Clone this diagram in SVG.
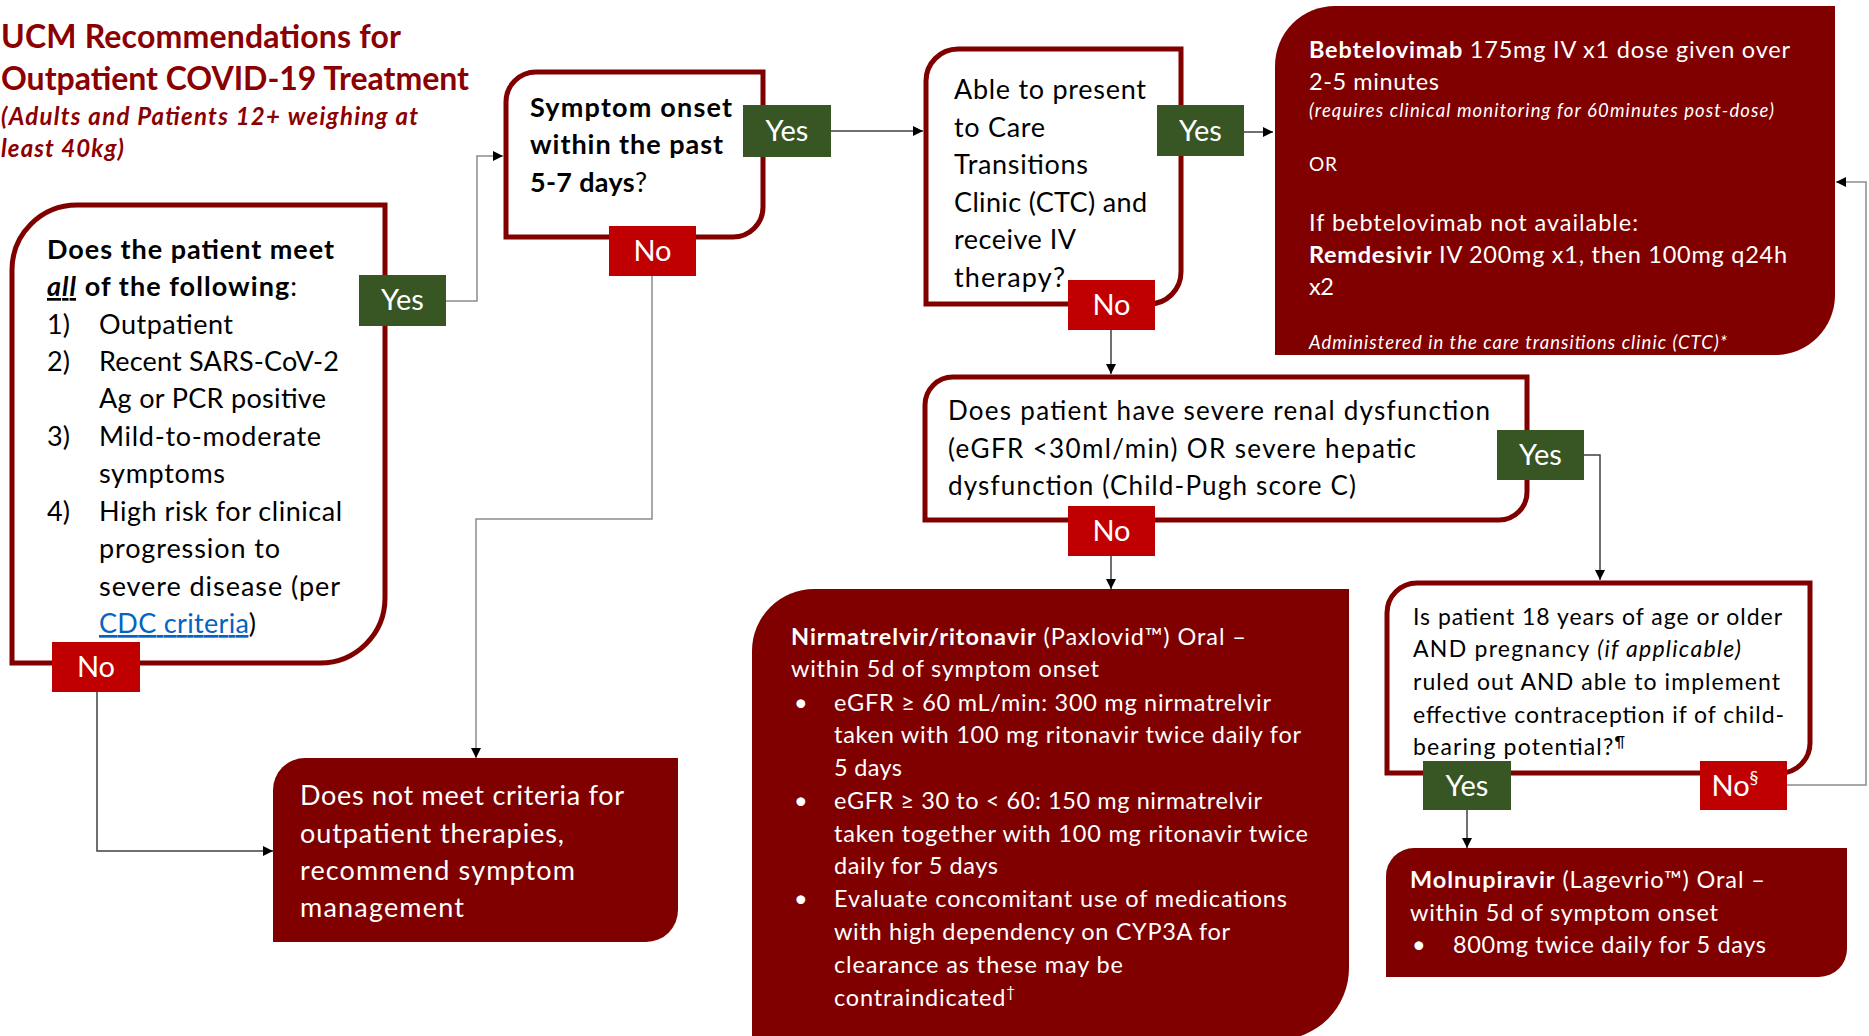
<svg xmlns="http://www.w3.org/2000/svg" width="1869" height="1036" viewBox="0 0 1869 1036">
<style>
text{font-family:Lato,"Open Sans","Liberation Sans",sans-serif;}
.b{font-weight:bold;}
.i{font-style:italic;}
.n{font-weight:normal;}
.w{fill:#ffffff;}
.k{fill:#000000;}
.title{fill:#8B0000;font-weight:bold;}
.q{fill:#ffffff;stroke:#800000;stroke-width:5;}
.f{fill:#800000;}
.yes{fill:#375623;}
.no{fill:#C00000;}
.lbl{fill:#ffffff;font-size:29px;text-anchor:middle;}
.c{fill:none;stroke:#404040;stroke-width:1.5;}
.cg{fill:none;stroke:#8c8c8c;stroke-width:1.5;}
</style>
<defs>
<marker id="ah" viewBox="0 0 10 10" refX="10" refY="5" markerWidth="10" markerHeight="10" markerUnits="userSpaceOnUse" orient="auto">
<path d="M0,0 L10,5 L0,10 z" fill="#000"/>
</marker>
</defs>

<g id="title">
<text class="title" x="1" y="48" font-size="32" textLength="400">UCM Recommendations for</text>
<text class="title" x="1" y="90" font-size="32" textLength="468">Outpatient COVID-19 Treatment</text>
<text class="title i" x="1" y="125" font-size="24" textLength="417">(Adults and Patients 12+ weighing at</text>
<text class="title i" x="1" y="157" font-size="24" textLength="123">least 40kg)</text>
</g>

<g id="connectors">
<path class="cg" d="M446,301 H477 V156 H503" marker-end="url(#ah)"/>
<path class="c" d="M831,131 H923" marker-end="url(#ah)"/>
<path class="c" d="M1244,132 H1273" marker-end="url(#ah)"/>
<path class="c" d="M1111,330 V374" marker-end="url(#ah)"/>
<path class="c" d="M1584,455 H1600 V580" marker-end="url(#ah)"/>
<path class="c" d="M1111,556 V589" marker-end="url(#ah)"/>
<path class="cg" d="M1787,785 H1866 V182 H1836" marker-end="url(#ah)"/>
<path class="c" d="M1467,810 V848" marker-end="url(#ah)"/>
<path class="c" d="M97,692 V851 H273" marker-end="url(#ah)"/>
<path class="cg" d="M652,276 V519 H476 V758" marker-end="url(#ah)"/>
</g>

<g id="criteria">
<path class="q" d="M12,270 A65,65 0 0 1 77,205 H385 V598 A65,65 0 0 1 320,663 H12 Z"/>
<text class="k b" x="47" y="259" font-size="27" textLength="287">Does the patient meet</text>
<text class="k b" x="47" y="296" font-size="27" textLength="250"><tspan class="i" text-decoration="underline">all</tspan> of the following<tspan class="n">:</tspan></text>
<g class="k" font-size="27">
<text x="47" y="334">1)</text><text x="99" y="334" textLength="134">Outpatient</text>
<text x="47" y="371">2)</text><text x="99" y="371" textLength="240">Recent SARS-CoV-2</text>
<text x="99" y="408" textLength="227">Ag or PCR positive</text>
<text x="47" y="446">3)</text><text x="99" y="446" textLength="222">Mild-to-moderate</text>
<text x="99" y="483" textLength="126">symptoms</text>
<text x="47" y="521">4)</text><text x="99" y="521" textLength="243">High risk for clinical</text>
<text x="99" y="558" textLength="181">progression to</text>
<text x="99" y="596" textLength="241">severe disease (per</text>
<text x="99" y="633" textLength="157"><tspan fill="#0563C1" text-decoration="underline">CDC criteria</tspan>)</text>
</g>
<rect class="yes" x="359" y="275" width="87" height="51"/>
<text class="lbl" x="402.5" y="310">Yes</text>
<rect class="no" x="52" y="642" width="88" height="50"/>
<text class="lbl" x="96" y="677">No</text>
</g>

<g id="onset">
<path class="q" d="M506,102 A30,30 0 0 1 536,72 H763 V207 A30,30 0 0 1 733,237 H506 Z"/>
<g class="k b" font-size="27">
<text x="530" y="117" textLength="202">Symptom onset</text>
<text x="530" y="154" textLength="193">within the past</text>
<text x="530" y="192" textLength="117">5-7 days<tspan class="n">?</tspan></text>
</g>
<rect class="yes" x="743" y="105" width="88" height="52"/>
<text class="lbl" x="787" y="141">Yes</text>
<rect class="no" x="609" y="226" width="87" height="50"/>
<text class="lbl" x="652.5" y="261">No</text>
</g>

<g id="ctc">
<path class="q" d="M926,81 A32,32 0 0 1 958,49 H1181 V272 A32,32 0 0 1 1149,304 H926 Z"/>
<g class="k" font-size="27">
<text x="954" y="99" textLength="192">Able to present</text>
<text x="954" y="137" textLength="91">to Care</text>
<text x="954" y="174" textLength="134">Transitions</text>
<text x="954" y="212" textLength="193">Clinic (CTC) and</text>
<text x="954" y="249" textLength="122">receive IV</text>
<text x="954" y="287" textLength="111">therapy?</text>
</g>
<rect class="yes" x="1157" y="105" width="87" height="51"/>
<text class="lbl" x="1200.5" y="141">Yes</text>
<rect class="no" x="1068" y="280" width="87" height="50"/>
<text class="lbl" x="1111.5" y="315">No</text>
</g>

<g id="iv">
<path class="f" d="M1275,66 A60,60 0 0 1 1335,6 H1835 V295 A60,60 0 0 1 1775,355 H1275 Z"/>
<g class="w" font-size="23.5">
<text x="1309" y="58" textLength="481"><tspan class="b">Bebtelovimab</tspan> 175mg IV x1 dose given over</text>
<text x="1309" y="90" textLength="130">2-5 minutes</text>
<text class="i" x="1309" y="117" font-size="18.5" textLength="465">(requires clinical monitoring for 60minutes post-dose)</text>
<text x="1309" y="171" font-size="19" textLength="28">OR</text>
<text x="1309" y="231" textLength="329">If bebtelovimab not available:</text>
<text x="1309" y="263" textLength="478"><tspan class="b">Remdesivir</tspan> IV 200mg x1, then 100mg q24h</text>
<text x="1309" y="295" textLength="25">x2</text>
<text class="i" x="1309" y="349" font-size="18.5" textLength="418">Administered in the care transitions clinic (CTC)*</text>
</g>
</g>

<g id="renal">
<path class="q" d="M925,405 A28,28 0 0 1 953,377 H1527 V492 A28,28 0 0 1 1499,520 H925 Z"/>
<g class="k" font-size="26">
<text x="948" y="420" textLength="542">Does patient have severe renal dysfunction</text>
<text x="948" y="458" textLength="468">(eGFR &lt;30ml/min) OR severe hepatic</text>
<text x="948" y="495" textLength="408">dysfunction (Child-Pugh score C)</text>
</g>
<rect class="yes" x="1497" y="430" width="87" height="50"/>
<text class="lbl" x="1540.5" y="465">Yes</text>
<rect class="no" x="1068" y="506" width="87" height="50"/>
<text class="lbl" x="1111.5" y="541">No</text>
</g>

<g id="age">
<path class="q" d="M1387,613 A30,30 0 0 1 1417,583 H1810 V743 A30,30 0 0 1 1780,773 H1387 Z"/>
<g class="k" font-size="23">
<text x="1413" y="625" textLength="369">Is patient 18 years of age or older</text>
<text x="1413" y="657" textLength="328">AND pregnancy <tspan class="i">(if applicable)</tspan></text>
<text x="1413" y="690" textLength="367">ruled out AND able to implement</text>
<text x="1413" y="723" textLength="371">effective contraception if of child-</text>
<text x="1413" y="755" textLength="212">bearing potential?<tspan font-size="15" dy="-8">¶</tspan></text>
</g>
<rect class="yes" x="1423" y="761" width="88" height="49"/>
<text class="lbl" x="1467" y="796">Yes</text>
<rect class="no" x="1700" y="761" width="87" height="49"/>
<text class="lbl" x="1735" y="796">No<tspan font-size="18" dy="-12">§</tspan></text>
</g>

<g id="paxlovid">
<path class="f" d="M752,651 A62,62 0 0 1 814,589 H1349 V968 A72,72 0 0 1 1277,1040 H752 Z"/>
<g class="w" font-size="23.5">
<text x="791" y="645" textLength="455"><tspan class="b">Nirmatrelvir/ritonavir</tspan> (Paxlovid™) Oral –</text>
<text x="791" y="677" textLength="308">within 5d of symptom onset</text>
<text x="794" y="711">•</text><text x="834" y="711" textLength="437">eGFR ≥ 60 mL/min: 300 mg nirmatrelvir</text>
<text x="834" y="743" textLength="467">taken with 100 mg ritonavir twice daily for</text>
<text x="834" y="776" textLength="68">5 days</text>
<text x="794" y="809">•</text><text x="834" y="809" textLength="428">eGFR ≥ 30 to &lt; 60: 150 mg nirmatrelvir</text>
<text x="834" y="842" textLength="474">taken together with 100 mg ritonavir twice</text>
<text x="834" y="874" textLength="164">daily for 5 days</text>
<text x="794" y="907">•</text><text x="834" y="907" textLength="453">Evaluate concomitant use of medications</text>
<text x="834" y="940" textLength="396">with high dependency  on CYP3A for</text>
<text x="834" y="973" textLength="289">clearance as these may be</text>
<text x="834" y="1006" textLength="181">contraindicated<tspan font-size="15" dy="-9">†</tspan></text>
</g>
</g>

<g id="molnupiravir">
<path class="f" d="M1386,876 A28,28 0 0 1 1414,848 H1847 V949 A28,28 0 0 1 1819,977 H1386 Z"/>
<g class="w" font-size="23.5">
<text x="1410" y="888" textLength="355"><tspan class="b">Molnupiravir</tspan> (Lagevrio™) Oral –</text>
<text x="1410" y="921" textLength="308">within 5d of symptom onset</text>
<text x="1412" y="953">•</text><text x="1453" y="953" textLength="313">800mg twice daily for 5 days</text>
</g>
</g>

<g id="nomeet">
<path class="f" d="M273,790 A32,32 0 0 1 305,758 H678 V910 A32,32 0 0 1 646,942 H273 Z"/>
<g class="w" font-size="27">
<text x="300" y="805" textLength="324">Does not meet criteria for</text>
<text x="300" y="843" textLength="264">outpatient therapies,</text>
<text x="300" y="880" textLength="275">recommend symptom</text>
<text x="300" y="917" textLength="164">management</text>
</g>
</g>
</svg>
